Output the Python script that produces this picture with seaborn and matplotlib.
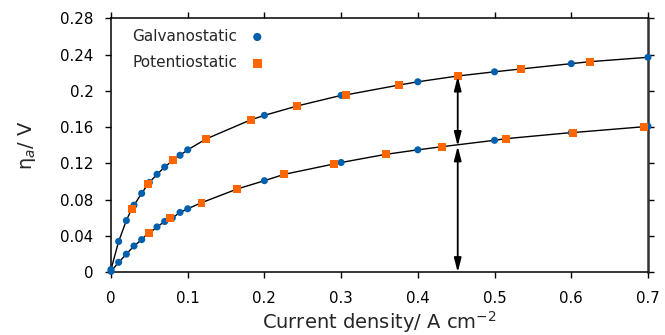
import numpy as np
import pandas as pd
import matplotlib
matplotlib.use("Agg")
import matplotlib.pyplot as plt
import seaborn as sns

# Galvanostatic (circles)
galv_up_x = [0.0, 0.01, 0.02, 0.03, 0.04, 0.05, 0.06, 0.07, 0.08, 0.09, 0.10, 0.20, 0.30, 0.40, 0.50, 0.60, 0.70]
galv_up_y = [0.003, 0.034, 0.057, 0.074, 0.087, 0.099, 0.108, 0.116, 0.123, 0.129, 0.135, 0.173, 0.195, 0.210, 0.221, 0.230, 0.237]
galv_lo_x = [0.0, 0.01, 0.02, 0.03, 0.04, 0.05, 0.06, 0.07, 0.08, 0.09, 0.10, 0.20, 0.30, 0.40, 0.50, 0.60, 0.70]
galv_lo_y = [0.001, 0.011, 0.020, 0.029, 0.036, 0.043, 0.050, 0.056, 0.060, 0.066, 0.070, 0.101, 0.121, 0.135, 0.1455, 0.154, 0.161]

# Potentiostatic (squares)
pot_up_x = [0.027, 0.048, 0.081, 0.124, 0.182, 0.243, 0.306, 0.376, 0.452, 0.534, 0.6245]
pot_up_y = [0.070, 0.097, 0.124, 0.147, 0.168, 0.1834, 0.1955, 0.2065, 0.2164, 0.2241, 0.2322]
pot_lo_x = [0.049, 0.077, 0.118, 0.1645, 0.226, 0.2906, 0.358, 0.432, 0.5147, 0.6018, 0.6953]
pot_lo_y = [0.0437, 0.0595, 0.0767, 0.0918, 0.108, 0.1194, 0.130, 0.1385, 0.1473, 0.154, 0.1605]

xticks = [0, 0.1, 0.2, 0.3, 0.4, 0.5, 0.6, 0.7]
xticklabels = ["0", "0.1", "0.2", "0.3", "0.4", "0.5", "0.6", "0.7"]
yticks = [0, 0.04, 0.08, 0.12, 0.16, 0.2, 0.24, 0.28]
yticklabels = ["0", "0.04", "0.08", "0.12", "0.16", "0.2", "0.24", "0.28"]

# arrow annotation levels at current density
arrow_x = 0.452
arrow_levels = [0.0, 0.139, 0.216]

sns.set_theme(style="white")
plt.rcParams['font.family'] = ['DejaVu Sans']

fig = plt.figure(figsize=(6.65, 3.35), dpi=100)
ax = fig.add_axes([0.1669, 0.1872, 0.8075, 0.7582])

# fitted curves: lines through all points on each curve
up = pd.DataFrame({"x": galv_up_x + pot_up_x, "y": galv_up_y + pot_up_y}).sort_values("x")
lo = pd.DataFrame({"x": galv_lo_x + pot_lo_x, "y": galv_lo_y + pot_lo_y}).sort_values("x")
sns.lineplot(data=up, x="x", y="y", ax=ax, color="black", lw=1.0, sort=True, estimator=None, zorder=2)
sns.lineplot(data=lo, x="x", y="y", ax=ax, color="black", lw=1.0, sort=True, estimator=None, zorder=2)

blue = "#0060ad"
orange = "#ff6600"
galv = pd.DataFrame({"x": galv_up_x + galv_lo_x, "y": galv_up_y + galv_lo_y})
pot = pd.DataFrame({"x": pot_up_x + pot_lo_x, "y": pot_up_y + pot_lo_y})
sns.scatterplot(data=galv, x="x", y="y", ax=ax, color=blue, marker="o", s=26,
                edgecolor="none", label="Galvanostatic", zorder=3, clip_on=False)
sns.scatterplot(data=pot, x="x", y="y", ax=ax, color=orange, marker="s", s=33,
                edgecolor="none", label="Potentiostatic", zorder=4, clip_on=False)

# arrows
for a, b in zip(arrow_levels[:-1], arrow_levels[1:]):
    ax.annotate("", xy=(arrow_x, b), xytext=(arrow_x, a),
                arrowprops=dict(arrowstyle="<|-|>,head_length=0.7,head_width=0.18",
                                color="black", lw=1.3, shrinkA=0, shrinkB=0), zorder=5)

ax.set_xlim(0, 0.7)
ax.set_ylim(0, 0.28)
ax.set_xticks(xticks)
ax.set_xticklabels(xticklabels)
ax.set_yticks(yticks)
ax.set_yticklabels(yticklabels)
ax.tick_params(axis="both", direction="out", length=4, width=1, colors="black",
               labelsize=10.8, top=True, right=True, bottom=True, left=True)
ax.tick_params(axis="x", pad=9.5)
ax.tick_params(axis="y", pad=8.5)
for s in ["left", "bottom", "top"]:
    ax.spines[s].set_color("black")
    ax.spines[s].set_linewidth(1.1)
ax.spines["right"].set_color("#333333")
ax.spines["right"].set_linewidth(1.8)

ax.set_xlabel("Current density/ A cm$^{-2}$", fontsize=14, labelpad=2)
ax.set_ylabel("η$_a$/ V", fontsize=14, labelpad=16)

leg = ax.legend(loc="upper left", frameon=False, markerfirst=False, fontsize=11,
                handletextpad=0.8, labelspacing=0.75, borderaxespad=0.3,
                bbox_to_anchor=(0.02, 1.0), handlelength=1.0, markerscale=1.15)
for t in leg.get_texts():
    t.set_ha("right")

fig.savefig("out.png", dpi=100)
